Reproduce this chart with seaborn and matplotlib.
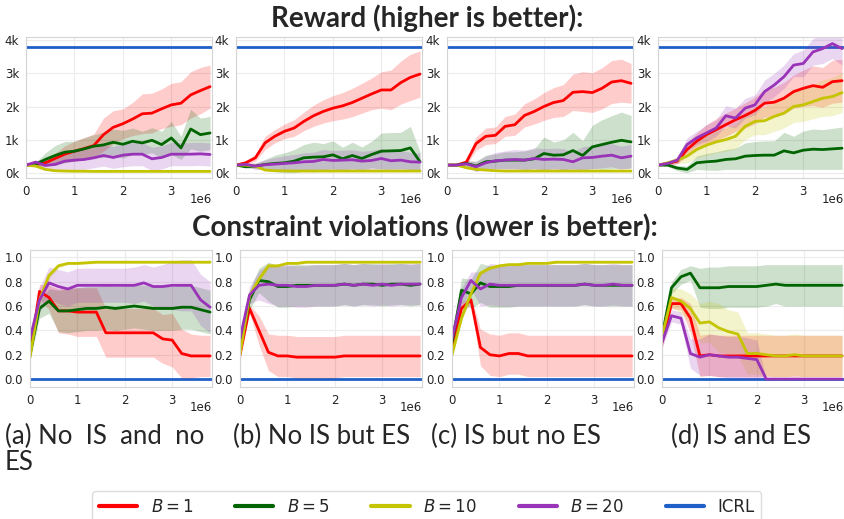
import numpy as np
import matplotlib.pyplot as plt
import seaborn as sns
from matplotlib.lines import Line2D
from matplotlib.ticker import FuncFormatter

# training steps (millions)
steps_m = [0.0, 0.2, 0.4, 0.6, 0.8, 1.0, 1.2, 1.4, 1.6, 1.8,
           2.0, 2.2, 2.4, 2.6, 2.8, 3.0, 3.2, 3.4, 3.6, 3.8]

series_labels = ["$B=1$", "$B=5$", "$B=10$", "$B=20$", "ICRL"]
panel_titles = ["(a) No  IS  and  no\nES", "(b) No IS but ES", "(c) IS but no ES", "(d) IS and ES"]
icrl_reward = 3800
icrl_violation = 0.0

# ---- reward, panel (a)
rew_a_b1 = [230, 250, 300, 430, 560, 650, 730, 820, 1150, 1370, 1480, 1620, 1780, 1800, 1930, 2050, 2100, 2350, 2480, 2600]
rew_a_b1_sd = [20, 50, 100, 150, 250, 300, 330, 350, 500, 500, 450, 500, 600, 600, 600, 650, 650, 700, 700, 650]
rew_a_b5 = [230, 260, 400, 520, 620, 650, 720, 800, 840, 920, 860, 950, 900, 980, 850, 1050, 750, 1320, 1150, 1200]
rew_a_b5_sd = [20, 50, 200, 300, 320, 300, 330, 350, 380, 400, 420, 400, 350, 380, 400, 500, 350, 600, 500, 500]
rew_a_b10 = [230, 200, 100, 60, 50, 45, 45, 40, 40, 40, 40, 40, 40, 40, 40, 40, 40, 40, 40, 40]
rew_a_b10_sd = [10, 20, 20, 15, 10, 10, 10, 10, 10, 10, 10, 10, 10, 10, 10, 10, 10, 10, 10, 10]
rew_a_b20 = [230, 320, 220, 250, 350, 380, 400, 450, 520, 460, 530, 560, 560, 420, 460, 560, 560, 560, 570, 550]
rew_a_b20_sd = [20, 60, 150, 200, 250, 280, 300, 300, 320, 330, 350, 350, 350, 350, 350, 350, 350, 350, 350, 350]

# ---- reward, panel (b)
rew_b_b1 = [230, 300, 450, 900, 1100, 1250, 1350, 1550, 1720, 1850, 1950, 2020, 2120, 2250, 2380, 2500, 2500, 2720, 2880, 2980]
rew_b_b1_sd = [20, 50, 100, 200, 200, 220, 250, 280, 320, 350, 380, 400, 430, 450, 480, 550, 600, 650, 700, 700]
rew_b_b5 = [230, 180, 200, 250, 280, 300, 350, 450, 470, 480, 540, 420, 520, 430, 550, 650, 660, 670, 750, 330]
rew_b_b5_sd = [20, 40, 80, 150, 250, 300, 350, 400, 450, 400, 420, 350, 400, 350, 400, 550, 550, 550, 650, 300]
rew_b_b10 = [230, 230, 200, 80, 60, 55, 50, 50, 50, 50, 50, 50, 50, 50, 50, 50, 50, 50, 50, 50]
rew_b_b10_sd = [10, 20, 20, 15, 10, 10, 10, 10, 10, 10, 10, 10, 10, 10, 10, 10, 10, 10, 10, 10]
rew_b_b20 = [230, 250, 200, 240, 260, 280, 300, 330, 340, 400, 370, 380, 390, 350, 370, 430, 360, 380, 330, 320]
rew_b_b20_sd = [20, 50, 100, 150, 200, 230, 250, 270, 280, 300, 300, 300, 300, 300, 300, 300, 300, 300, 280, 280]

# ---- reward, panel (c)
rew_c_b1 = [230, 230, 320, 880, 1100, 1130, 1400, 1450, 1730, 1850, 2000, 2120, 2180, 2430, 2450, 2420, 2550, 2740, 2780, 2700]
rew_c_b1_sd = [20, 30, 80, 200, 250, 250, 300, 320, 350, 380, 420, 450, 480, 550, 600, 600, 620, 650, 650, 600]
rew_c_b5 = [230, 230, 280, 200, 330, 350, 380, 380, 380, 420, 580, 530, 540, 670, 520, 780, 850, 920, 980, 930]
rew_c_b5_sd = [20, 30, 80, 150, 200, 220, 250, 250, 280, 300, 500, 400, 450, 550, 450, 650, 750, 800, 850, 800]
rew_c_b10 = [230, 230, 150, 100, 80, 60, 50, 50, 50, 50, 50, 50, 50, 50, 50, 50, 50, 50, 50, 50]
rew_c_b10_sd = [10, 20, 20, 15, 10, 10, 10, 10, 10, 10, 10, 10, 10, 10, 10, 10, 10, 10, 10, 10]
rew_c_b20 = [230, 230, 270, 180, 300, 360, 380, 400, 380, 430, 400, 410, 400, 330, 450, 460, 500, 530, 450, 500]
rew_c_b20_sd = [20, 30, 100, 150, 200, 250, 280, 300, 300, 320, 330, 330, 330, 300, 340, 350, 350, 350, 350, 350]

# ---- reward, panel (d)
rew_d_b1 = [230, 280, 350, 700, 950, 1150, 1300, 1450, 1600, 1730, 1880, 2100, 2130, 2250, 2450, 2550, 2630, 2580, 2750, 2780]
rew_d_b1_sd = [20, 50, 80, 200, 250, 300, 330, 350, 350, 380, 400, 420, 450, 480, 500, 550, 600, 600, 650, 650]
rew_d_b5 = [230, 230, 140, 100, 300, 330, 350, 400, 420, 500, 520, 530, 530, 660, 600, 680, 710, 700, 720, 740]
rew_d_b5_sd = [20, 40, 80, 100, 200, 250, 280, 300, 320, 400, 420, 430, 430, 560, 500, 580, 610, 600, 620, 640]
rew_d_b10 = [230, 300, 380, 500, 700, 830, 930, 1000, 1100, 1400, 1550, 1570, 1700, 1800, 2000, 2050, 2150, 2250, 2300, 2420]
rew_d_b10_sd = [20, 60, 100, 200, 250, 300, 330, 350, 380, 400, 400, 420, 450, 450, 480, 500, 520, 550, 580, 600]
rew_d_b20 = [230, 280, 380, 850, 1050, 1200, 1350, 1720, 1650, 1950, 2050, 2450, 2650, 2900, 3250, 3300, 3650, 3750, 3900, 3750]
rew_d_b20_sd = [20, 50, 100, 200, 200, 250, 250, 300, 300, 300, 300, 350, 350, 350, 350, 400, 400, 450, 450, 500]

# ---- constraint violations, panel (a)
vio_a_b1 = [0.20, 0.72, 0.67, 0.56, 0.56, 0.55, 0.55, 0.55, 0.38, 0.38, 0.38, 0.38, 0.38, 0.38, 0.33, 0.32, 0.21, 0.19, 0.19, 0.19]
vio_a_b1_sd = [0.05, 0.06, 0.10, 0.18, 0.19, 0.20, 0.20, 0.20, 0.20, 0.20, 0.20, 0.20, 0.20, 0.20, 0.20, 0.22, 0.20, 0.18, 0.17, 0.17]
vio_a_b5 = [0.20, 0.58, 0.64, 0.56, 0.56, 0.57, 0.58, 0.58, 0.59, 0.58, 0.59, 0.60, 0.59, 0.58, 0.58, 0.58, 0.59, 0.59, 0.57, 0.55]
vio_a_b5_sd = [0.05, 0.08, 0.10, 0.17, 0.18, 0.18, 0.18, 0.18, 0.18, 0.18, 0.18, 0.18, 0.18, 0.18, 0.18, 0.18, 0.18, 0.18, 0.18, 0.18]
vio_a_b10 = [0.18, 0.65, 0.85, 0.93, 0.95, 0.95, 0.955, 0.96, 0.96, 0.96, 0.96, 0.96, 0.96, 0.96, 0.96, 0.96, 0.96, 0.96, 0.96, 0.96]
vio_a_b10_sd = [0.03, 0.03, 0.03, 0.02, 0.01, 0.01, 0.01, 0.01, 0.01, 0.01, 0.01, 0.01, 0.01, 0.01, 0.01, 0.01, 0.01, 0.01, 0.01, 0.01]
vio_a_b20 = [0.33, 0.65, 0.79, 0.76, 0.74, 0.77, 0.77, 0.77, 0.77, 0.77, 0.77, 0.77, 0.79, 0.76, 0.76, 0.77, 0.77, 0.77, 0.65, 0.59]
vio_a_b20_sd = [0.05, 0.10, 0.13, 0.14, 0.14, 0.14, 0.14, 0.14, 0.14, 0.14, 0.14, 0.15, 0.15, 0.16, 0.18, 0.20, 0.21, 0.21, 0.21, 0.21]

# ---- constraint violations, panel (b)
vio_b_b1 = [0.20, 0.58, 0.40, 0.22, 0.19, 0.19, 0.18, 0.18, 0.18, 0.18, 0.18, 0.19, 0.19, 0.19, 0.19, 0.19, 0.19, 0.19, 0.19, 0.19]
vio_b_b1_sd = [0.05, 0.03, 0.12, 0.15, 0.17, 0.17, 0.17, 0.17, 0.17, 0.17, 0.17, 0.17, 0.17, 0.17, 0.17, 0.17, 0.17, 0.17, 0.17, 0.17]
vio_b_b5 = [0.25, 0.65, 0.81, 0.80, 0.76, 0.76, 0.77, 0.77, 0.77, 0.77, 0.77, 0.78, 0.77, 0.78, 0.78, 0.77, 0.78, 0.78, 0.77, 0.78]
vio_b_b5_sd = [0.05, 0.08, 0.10, 0.16, 0.17, 0.17, 0.17, 0.17, 0.17, 0.17, 0.17, 0.17, 0.17, 0.17, 0.17, 0.17, 0.17, 0.17, 0.17, 0.17]
vio_b_b10 = [0.20, 0.68, 0.82, 0.93, 0.93, 0.95, 0.95, 0.96, 0.96, 0.96, 0.96, 0.96, 0.96, 0.96, 0.96, 0.96, 0.96, 0.96, 0.96, 0.96]
vio_b_b10_sd = [0.03, 0.03, 0.03, 0.02, 0.01, 0.01, 0.01, 0.01, 0.01, 0.01, 0.01, 0.01, 0.01, 0.01, 0.01, 0.01, 0.01, 0.01, 0.01, 0.01]
vio_b_b20 = [0.33, 0.69, 0.77, 0.78, 0.77, 0.77, 0.76, 0.76, 0.77, 0.77, 0.77, 0.78, 0.77, 0.78, 0.77, 0.78, 0.77, 0.78, 0.78, 0.78]
vio_b_b20_sd = [0.05, 0.07, 0.12, 0.16, 0.17, 0.17, 0.17, 0.17, 0.17, 0.17, 0.17, 0.17, 0.17, 0.17, 0.17, 0.17, 0.17, 0.17, 0.17, 0.17]

# ---- constraint violations, panel (c)
vio_c_b1 = [0.25, 0.58, 0.65, 0.26, 0.20, 0.19, 0.21, 0.21, 0.19, 0.19, 0.19, 0.19, 0.19, 0.19, 0.19, 0.19, 0.19, 0.19, 0.19, 0.19]
vio_c_b1_sd = [0.05, 0.05, 0.03, 0.15, 0.17, 0.17, 0.17, 0.17, 0.17, 0.17, 0.17, 0.17, 0.17, 0.17, 0.17, 0.17, 0.17, 0.17, 0.17, 0.17]
vio_c_b5 = [0.30, 0.73, 0.70, 0.79, 0.76, 0.76, 0.76, 0.77, 0.77, 0.77, 0.77, 0.77, 0.77, 0.77, 0.78, 0.77, 0.77, 0.77, 0.77, 0.77]
vio_c_b5_sd = [0.05, 0.10, 0.12, 0.16, 0.17, 0.17, 0.17, 0.17, 0.17, 0.17, 0.17, 0.17, 0.17, 0.17, 0.17, 0.17, 0.17, 0.17, 0.17, 0.17]
vio_c_b10 = [0.20, 0.50, 0.70, 0.87, 0.91, 0.93, 0.94, 0.94, 0.95, 0.95, 0.95, 0.96, 0.96, 0.96, 0.96, 0.96, 0.96, 0.96, 0.96, 0.96]
vio_c_b10_sd = [0.03, 0.03, 0.03, 0.02, 0.01, 0.01, 0.01, 0.01, 0.01, 0.01, 0.01, 0.01, 0.01, 0.01, 0.01, 0.01, 0.01, 0.01, 0.01, 0.01]
vio_c_b20 = [0.33, 0.67, 0.81, 0.74, 0.78, 0.77, 0.77, 0.77, 0.77, 0.77, 0.77, 0.77, 0.77, 0.77, 0.78, 0.77, 0.77, 0.78, 0.77, 0.77]
vio_c_b20_sd = [0.05, 0.08, 0.07, 0.14, 0.17, 0.17, 0.17, 0.17, 0.17, 0.17, 0.17, 0.17, 0.17, 0.17, 0.17, 0.17, 0.17, 0.17, 0.17, 0.17]

# ---- constraint violations, panel (d)
vio_d_b1 = [0.30, 0.62, 0.62, 0.50, 0.19, 0.20, 0.19, 0.19, 0.19, 0.19, 0.19, 0.19, 0.19, 0.19, 0.19, 0.19, 0.19, 0.19, 0.19, 0.19]
vio_d_b1_sd = [0.05, 0.04, 0.05, 0.12, 0.17, 0.17, 0.17, 0.17, 0.17, 0.17, 0.17, 0.17, 0.17, 0.17, 0.17, 0.17, 0.17, 0.17, 0.17, 0.17]
vio_d_b5 = [0.35, 0.75, 0.84, 0.87, 0.75, 0.75, 0.75, 0.76, 0.76, 0.76, 0.76, 0.77, 0.78, 0.77, 0.77, 0.77, 0.77, 0.77, 0.77, 0.77]
vio_d_b5_sd = [0.05, 0.05, 0.06, 0.06, 0.16, 0.17, 0.17, 0.17, 0.17, 0.17, 0.17, 0.17, 0.16, 0.17, 0.17, 0.17, 0.17, 0.17, 0.17, 0.17]
vio_d_b10 = [0.35, 0.67, 0.64, 0.58, 0.46, 0.47, 0.42, 0.39, 0.37, 0.21, 0.21, 0.20, 0.19, 0.19, 0.20, 0.19, 0.19, 0.19, 0.19, 0.19]
vio_d_b10_sd = [0.05, 0.08, 0.10, 0.12, 0.16, 0.17, 0.20, 0.18, 0.18, 0.17, 0.17, 0.17, 0.17, 0.17, 0.17, 0.17, 0.17, 0.17, 0.17, 0.17]
vio_d_b20 = [0.30, 0.52, 0.50, 0.21, 0.18, 0.20, 0.19, 0.18, 0.18, 0.17, 0.16, 0.0, 0.0, 0.0, 0.0, 0.0, 0.0, 0.0, 0.0, 0.0]
vio_d_b20_sd = [0.05, 0.05, 0.05, 0.12, 0.15, 0.17, 0.17, 0.17, 0.17, 0.17, 0.16, 0.0, 0.0, 0.0, 0.0, 0.0, 0.0, 0.0, 0.0, 0.0]

colors = ["#ff0000", "#006400", "#c4c400", "#9933b8", "#1f5fc8"]

reward_means = [[rew_a_b1, rew_a_b5, rew_a_b10, rew_a_b20],
                [rew_b_b1, rew_b_b5, rew_b_b10, rew_b_b20],
                [rew_c_b1, rew_c_b5, rew_c_b10, rew_c_b20],
                [rew_d_b1, rew_d_b5, rew_d_b10, rew_d_b20]]
reward_sds = [[rew_a_b1_sd, rew_a_b5_sd, rew_a_b10_sd, rew_a_b20_sd],
              [rew_b_b1_sd, rew_b_b5_sd, rew_b_b10_sd, rew_b_b20_sd],
              [rew_c_b1_sd, rew_c_b5_sd, rew_c_b10_sd, rew_c_b20_sd],
              [rew_d_b1_sd, rew_d_b5_sd, rew_d_b10_sd, rew_d_b20_sd]]
vio_means = [[vio_a_b1, vio_a_b5, vio_a_b10, vio_a_b20],
             [vio_b_b1, vio_b_b5, vio_b_b10, vio_b_b20],
             [vio_c_b1, vio_c_b5, vio_c_b10, vio_c_b20],
             [vio_d_b1, vio_d_b5, vio_d_b10, vio_d_b20]]
vio_sds = [[vio_a_b1_sd, vio_a_b5_sd, vio_a_b10_sd, vio_a_b20_sd],
           [vio_b_b1_sd, vio_b_b5_sd, vio_b_b10_sd, vio_b_b20_sd],
           [vio_c_b1_sd, vio_c_b5_sd, vio_c_b10_sd, vio_c_b20_sd],
           [vio_d_b1_sd, vio_d_b5_sd, vio_d_b10_sd, vio_d_b20_sd]]

steps = np.array(steps_m) * 1e6

sns.set_style("whitegrid", {"grid.color": "#ececec", "axes.edgecolor": "#d4d4d4"})
plt.rcParams['font.family'] = ['DejaVu Sans']
narrow = ['Lato', 'DejaVu Sans']

W, H = 845, 519
fig = plt.figure(figsize=(W / 100, H / 100), dpi=100)


def px_axes(left, top, width, height):
    return fig.add_axes([left / W, 1 - (top + height) / H, width / W, height / H])


def draw_panel(ax, means, sds, icrl, ylim, offset_y):
    ax.axhline(icrl, color=colors[4], lw=2, zorder=1)
    for m, s, c in zip(means, sds, colors):
        m = np.array(m)
        s = np.array(s)
        ax.fill_between(steps, np.clip(m - s, 0, None), m + s, color=c, alpha=0.2, lw=0)
        sns.lineplot(x=steps, y=m, color=c, lw=2, ax=ax)
    ax.set_xlim(0, 3.84e6)
    ax.set_ylim(*ylim)
    ax.set_xticks([0, 1e6, 2e6, 3e6])
    ax.xaxis.set_major_formatter(FuncFormatter(lambda v, p: f"{v / 1e6:g}"))
    ax.text(1.0, offset_y, "1e6", transform=ax.transAxes, ha='right', va='center',
            fontsize=8.5, color='#222222')
    ax.tick_params(labelsize=8.5, pad=1.5, colors='#222222')
    ax.grid(lw=0.8)
    for sp in ax.spines.values():
        sp.set_linewidth(0.8)


top_lefts = [26, 236, 447, 658]
bot_lefts = [30, 240, 452, 662]

for i in range(4):
    ax = px_axes(top_lefts[i], 37, 186, 141)
    draw_panel(ax, reward_means[i], reward_sds[i], icrl_reward, (-160, 4100), -0.156)
    ax.set_yticks([0, 1000, 2000, 3000, 4000])
    ax.yaxis.set_major_formatter(FuncFormatter(lambda v, p: f"{int(v / 1000)}k"))

    ax2 = px_axes(bot_lefts[i], 250, 182, 137)
    draw_panel(ax2, vio_means[i], vio_sds[i], icrl_violation, (-0.065, 1.06), -0.146)
    ax2.set_yticks([0.0, 0.2, 0.4, 0.6, 0.8, 1.0])
    ax2.yaxis.set_major_formatter(FuncFormatter(lambda v, p: f"{v:.1f}"))

fig.text(427 / W, 1 - 18 / H, "Reward (higher is better):", ha='center', va='center',
         fontsize=20, fontweight='bold', family=narrow)
fig.text(425 / W, 1 - 228 / H, "Constraint violations (lower is better):", ha='center', va='center',
         fontsize=20, fontweight='bold', family=narrow)

cap_x = [5, 233, 431, 671]
for x, t in zip(cap_x, panel_titles):
    fig.text(x / W, 1 - 424 / H, t, ha='left', va='top', fontsize=18.5,
             family=narrow, linespacing=1.05)

handles = [Line2D([], [], color=c, lw=3) for c in colors]
fig.legend(handles, series_labels, loc='upper center', bbox_to_anchor=(0.505, 1 - 483 / H),
           ncol=5, fontsize=12, frameon=True, handlelength=2.3, handletextpad=0.8,
           columnspacing=2.5, borderpad=0.4, edgecolor='#d4d4d4', fancybox=True)

fig.savefig("out.png", dpi=100)
